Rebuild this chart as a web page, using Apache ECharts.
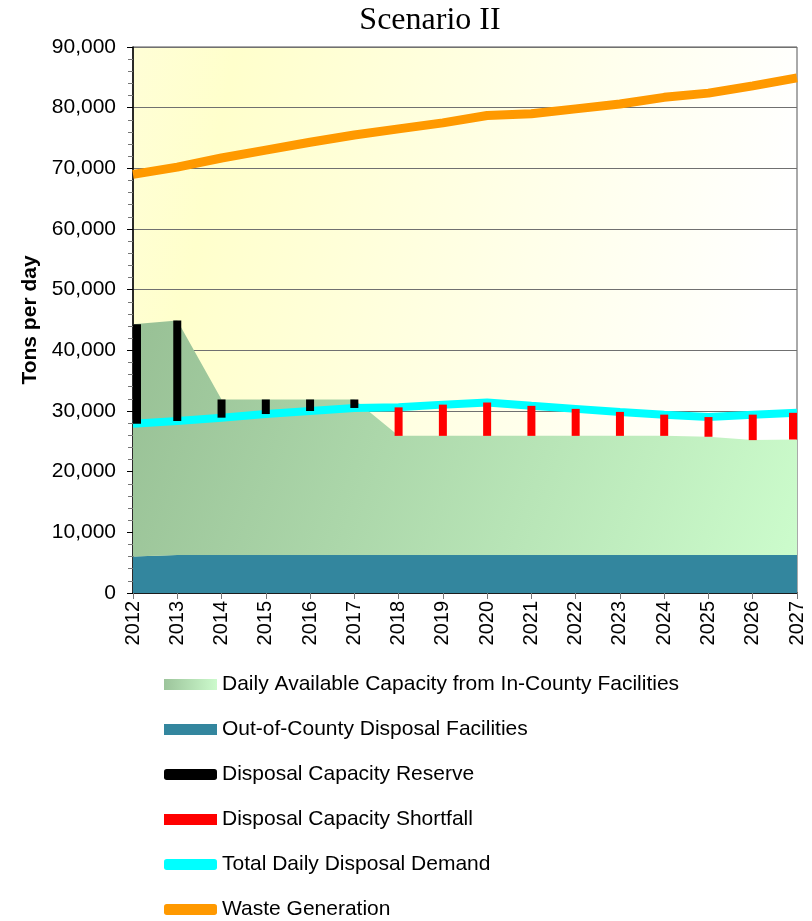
<!DOCTYPE html>
<html>
<head>
<meta charset="utf-8">
<script src="https://cdn.jsdelivr.net/npm/echarts@6/dist/echarts.min.js"></script>
<style>
html,body{margin:0;padding:0;background:#fff;}
#c{width:812px;height:921px;}
</style>
</head>
<body>
<div id="c"></div>
<script>
const years = ['2012','2013','2014','2015','2016','2017','2018','2019','2020','2021','2022','2023','2024','2025','2026','2027'];
const outCounty = [6000,6250,6250,6250,6250,6250,6250,6250,6250,6250,6250,6250,6250,6250,6250,6250];
const inCounty = [38300,38650,25650,25650,25650,25650,19650,19650,19650,19650,19650,19650,19650,19500,18950,19050];
const demand = [27900,28350,28900,29500,30000,30500,30600,31050,31400,30850,30350,29850,29400,29000,29400,29700];
const waste = [69000,70200,71700,73000,74300,75500,76500,77500,78700,79000,79800,80600,81700,82400,83600,84900];
const reserve = [16400,16550,3000,2400,1900,1400,0,0,0,0,0,0,0,0,0,0];
const shortfall = [0,0,0,0,0,0,4700,5150,5500,4950,4450,3950,3500,3250,4200,4400];
const yTicks = [0,10000,20000,30000,40000,50000,60000,70000,80000,90000];

const capacity = inCounty.map((v,i)=>v+outCounty[i]);
const reserveData = years.map((y,i)=>[i, demand[i], demand[i]+reserve[i]]);
const shortfallData = years.map((y,i)=>[i, capacity[i], capacity[i]+shortfall[i]]);

const G = echarts.graphic.LinearGradient;
const chart = echarts.init(document.getElementById('c'), null, {renderer:'canvas'});
const fontF = '"Liberation Sans", Arial, sans-serif';
const BW = 8;

function barRender(color){
  return function(params, api){
    const lo = api.value(1), hi = api.value(2);
    if (!(hi > lo)) return null;
    const p1 = api.coord([api.value(0), lo]);
    const p2 = api.coord([api.value(0), hi]);
    const cs = params.coordSys;
    let x = p1[0] - BW/2;
    if (x < cs.x) x = cs.x;
    if (x + BW > cs.x + cs.width) x = cs.x + cs.width - BW;
    return {type:'rect', shape:{x:x, y:p2[1], width:BW, height:p1[1]-p2[1]}, style:{fill:color}};
  };
}

chart.setOption({
  animation:false,
  backgroundColor:'#ffffff',
  title:{
    text:'Scenario II', left:425, top:0, textAlign:'center',
    textStyle:{fontFamily:'"Liberation Serif", "DejaVu Serif", serif', fontSize:32, fontWeight:'normal', color:'#000'}
  },
  grid:{
    left:133, right:15, top:47, bottom:328, show:true,
    backgroundColor:new G(0,0,1,0.25,[{offset:0,color:'#fffed6'},{offset:0.15,color:'#ffffcc'},{offset:1,color:'#ffffff'}]),
    borderColor:'#555', borderWidth:1
  },
  legend:{
    orient:'vertical', left:164, top:674, height:400, padding:0, itemGap:24, itemWidth:53, itemHeight:11,
    textStyle:{fontFamily:fontF, fontSize:21, lineHeight:21, color:'#000', padding:[0,0,0,0]},
    data:[
      {name:'Daily Available Capacity from In-County Facilities', icon:'rect', itemStyle:{color:new G(0,0,1,0,[{offset:0,color:'#9cc49b'},{offset:1,color:'#ccfacc'}])}},
      {name:'Out-of-County Disposal Facilities', icon:'rect'},
      {name:'Disposal Capacity Reserve', icon:'roundRect', itemStyle:{color:'#000'}},
      {name:'Disposal Capacity Shortfall', icon:'rect', itemStyle:{color:'#ff0000'}},
      {name:'Total Daily Disposal Demand', icon:'roundRect'},
      {name:'Waste Generation', icon:'roundRect'}
    ]
  },
  xAxis:{
    type:'category', data:years, boundaryGap:false,
    axisLine:{lineStyle:{color:'#000', width:1.5}},
    axisTick:{show:true, length:6, lineStyle:{color:'#777'}},
    axisLabel:{rotate:90, fontFamily:fontF, fontSize:20, color:'#000', margin:8},
    splitLine:{show:false}
  },
  yAxis:{
    type:'value', min:0, max:90000, interval:10000,
    name:'Tons per day', nameLocation:'middle', nameGap:92,
    nameTextStyle:{fontFamily:fontF, fontSize:21, fontWeight:'bold', color:'#000'},
    axisLine:{show:true, lineStyle:{color:'#000', width:1.5}},
    axisTick:{show:true, length:6, lineStyle:{color:'#000'}},
    minorTick:{show:true, splitNumber:5, length:5, lineStyle:{color:'#777'}},
    axisLabel:{fontFamily:fontF, fontSize:21, color:'#000', margin:17,
      formatter:v=>v.toLocaleString('en-US')},
    splitLine:{show:true, lineStyle:{color:'#707070', width:1}}
  },
  series:[
    {name:'Out-of-County Disposal Facilities', type:'line', stack:'cap', data:outCounty, symbol:'none',
      lineStyle:{width:0}, itemStyle:{color:'#33869e'}, areaStyle:{color:'#33869e', opacity:1}, z:1},
    {name:'Daily Available Capacity from In-County Facilities', type:'line', stack:'cap', data:inCounty, symbol:'none',
      lineStyle:{width:0}, itemStyle:{color:'#a6cfa4'},
      areaStyle:{opacity:1, color:new G(0,0,1,1,[{offset:0,color:'#98c095'},{offset:1,color:'#ccfccc'}])}, z:1},
    {name:'Total Daily Disposal Demand', type:'line', data:demand, symbol:'none',
      lineStyle:{width:8, color:'#00ffff'}, itemStyle:{color:'#00ffff'}, z:3},
    {name:'Disposal Capacity Reserve', type:'custom', data:reserveData, renderItem:barRender('#000000'),
      itemStyle:{color:'#000000'}, encode:{x:0, y:[1,2]}, z:4},
    {name:'Disposal Capacity Shortfall', type:'custom', data:shortfallData, renderItem:barRender('#ff0000'),
      itemStyle:{color:'#ff0000'}, encode:{x:0, y:[1,2]}, z:4},
    {name:'Waste Generation', type:'line', data:waste, symbol:'none',
      lineStyle:{width:9, color:'#ff9900'}, itemStyle:{color:'#ff9900'}, z:5}
  ]
});
</script>
</body>
</html>
